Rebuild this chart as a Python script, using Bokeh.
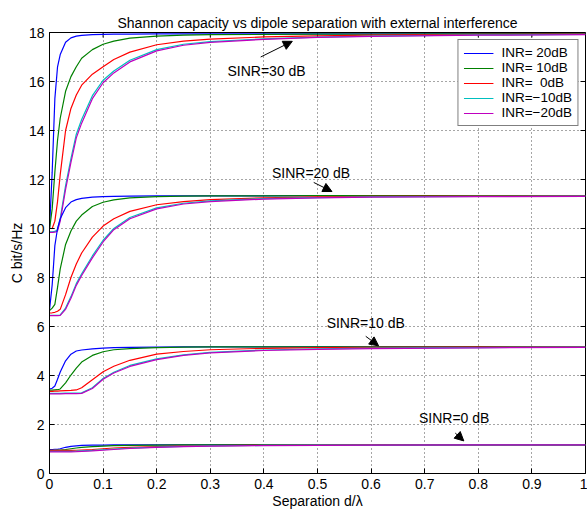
from bokeh.plotting import figure
from bokeh.models import (Legend, LegendItem, Arrow, NormalHead, Label,
                          FixedTicker, Range1d)
from bokeh.embed import file_html
from bokeh.resources import INLINE

# ---------------- data ----------------
sep = [0, 0.005, 0.01, 0.015, 0.02, 0.03, 0.04, 0.05, 0.06, 0.08, 0.1, 0.12, 0.15,
       0.2, 0.25, 0.3, 0.4, 0.5, 0.6, 0.8, 1.0]

inr_labels = ["INR= 20dB", "INR= 10dB", "INR=\u00a0\u00a00dB", "INR=\u221210dB", "INR=\u221220dB"]
inr_colors = ["#0000ff", "#008000", "#ff0000", "#00bfbf", "#bf00bf"]

# SINR = 30 dB
c30_inr20 = [9.97, 12.3, 15.3, 16.6, 17.1, 17.6, 17.78, 17.85, 17.88, 17.91, 17.92, 17.93, 17.93, 17.94, 17.94, 17.94, 17.94, 17.94, 17.94, 17.94, 17.94]
c30_inr10 = [9.97, 10.8, 12.3, 13.6, 14.5, 15.6, 16.2, 16.6, 16.95, 17.3, 17.52, 17.65, 17.77, 17.85, 17.89, 17.91, 17.92, 17.93, 17.93, 17.94, 17.94]
c30_inr0 = [10.0, 10.0, 10.3, 11.1, 12.2, 14.0, 14.9, 15.45, 15.85, 16.3, 16.6, 16.9, 17.2, 17.5, 17.65, 17.73, 17.82, 17.86, 17.89, 17.92, 17.93]
c30_inrm10 = [9.86, 9.86, 9.88, 9.95, 10.4, 11.75, 12.85, 13.85, 14.45, 15.42, 16.05, 16.43, 16.87, 17.3, 17.52, 17.63, 17.74, 17.81, 17.85, 17.9, 17.92]
c30_inrm20 = [9.84, 9.84, 9.85, 9.9, 10.3, 11.6, 12.7, 13.7, 14.3, 15.3, 15.95, 16.35, 16.8, 17.25, 17.48, 17.6, 17.72, 17.8, 17.84, 17.89, 17.91]

# SINR = 20 dB
c20_inr20 = [6.68, 7.7, 9.3, 10.0, 10.4, 10.85, 11.08, 11.18, 11.23, 11.28, 11.3, 11.31, 11.32, 11.33, 11.33, 11.33, 11.33, 11.34, 11.34, 11.34, 11.34]
c20_inr10 = [6.65, 6.75, 6.9, 7.6, 8.35, 9.35, 9.9, 10.3, 10.55, 10.9, 11.07, 11.17, 11.25, 11.3, 11.32, 11.33, 11.33, 11.34, 11.34, 11.34, 11.34]
c20_inr0 = [6.55, 6.56, 6.58, 6.62, 6.7, 7.3, 8.0, 8.55, 9.0, 9.65, 10.1, 10.4, 10.7, 10.97, 11.1, 11.18, 11.25, 11.29, 11.31, 11.32, 11.33]
c20_inrm10 = [6.46, 6.46, 6.46, 6.46, 6.47, 6.75, 7.22, 7.75, 8.15, 8.88, 9.52, 10.0, 10.45, 10.84, 11.03, 11.13, 11.22, 11.26, 11.29, 11.31, 11.32]
c20_inrm20 = [6.44, 6.44, 6.44, 6.44, 6.45, 6.7, 7.15, 7.68, 8.08, 8.8, 9.45, 9.95, 10.4, 10.8, 11.0, 11.1, 11.2, 11.25, 11.28, 11.3, 11.31]

# SINR = 10 dB
c10_inr20 = [3.45, 3.48, 3.57, 3.85, 4.14, 4.6, 4.87, 5.0, 5.04, 5.09, 5.12, 5.14, 5.15, 5.16, 5.17, 5.17, 5.17, 5.17, 5.17, 5.17, 5.17]
c10_inr10 = [3.4, 3.4, 3.41, 3.42, 3.45, 3.7, 4.02, 4.3, 4.55, 4.82, 4.97, 5.05, 5.1, 5.14, 5.16, 5.17, 5.17, 5.17, 5.17, 5.17, 5.17]
c10_inr0 = [3.35, 3.35, 3.36, 3.36, 3.37, 3.38, 3.39, 3.41, 3.5, 3.83, 4.15, 4.38, 4.62, 4.87, 4.98, 5.05, 5.11, 5.14, 5.15, 5.16, 5.17]
c10_inrm10 = [3.27, 3.27, 3.27, 3.27, 3.27, 3.28, 3.28, 3.28, 3.29, 3.5, 3.88, 4.13, 4.41, 4.68, 4.84, 4.94, 5.04, 5.09, 5.12, 5.14, 5.16]
c10_inrm20 = [3.25, 3.25, 3.25, 3.25, 3.25, 3.26, 3.26, 3.26, 3.27, 3.47, 3.85, 4.1, 4.37, 4.65, 4.82, 4.92, 5.02, 5.07, 5.1, 5.13, 5.15]

# SINR = 0 dB
c0_inr20 = [0.98, 0.98, 0.99, 0.99, 1.01, 1.07, 1.11, 1.13, 1.145, 1.155, 1.16, 1.165, 1.17, 1.17, 1.17, 1.17, 1.17, 1.17, 1.17, 1.17, 1.17]
c0_inr10 = [0.95, 0.95, 0.95, 0.955, 0.96, 0.98, 1.01, 1.04, 1.07, 1.1, 1.12, 1.135, 1.15, 1.16, 1.165, 1.17, 1.17, 1.17, 1.17, 1.17, 1.17]
c0_inr0 = [0.94, 0.94, 0.94, 0.94, 0.94, 0.94, 0.945, 0.95, 0.96, 0.98, 1.01, 1.04, 1.07, 1.1, 1.12, 1.135, 1.15, 1.16, 1.165, 1.17, 1.17]
c0_inrm10 = [0.9, 0.9, 0.9, 0.9, 0.9, 0.9, 0.905, 0.91, 0.92, 0.94, 0.97, 1.0, 1.035, 1.08, 1.105, 1.125, 1.145, 1.155, 1.16, 1.165, 1.17]
c0_inrm20 = [0.88, 0.88, 0.88, 0.88, 0.88, 0.88, 0.885, 0.89, 0.9, 0.92, 0.95, 0.98, 1.02, 1.07, 1.1, 1.12, 1.14, 1.15, 1.16, 1.165, 1.17]

groups = [
    [c30_inr20, c30_inr10, c30_inr0, c30_inrm10, c30_inrm20],
    [c20_inr20, c20_inr10, c20_inr0, c20_inrm10, c20_inrm20],
    [c10_inr20, c10_inr10, c10_inr0, c10_inrm10, c10_inrm20],
    [c0_inr20, c0_inr10, c0_inr0, c0_inrm10, c0_inrm20],
]

x_ticks = [0, 0.1, 0.2, 0.3, 0.4, 0.5, 0.6, 0.7, 0.8, 0.9, 1]
x_tick_labels = ["0", "0.1", "0.2", "0.3", "0.4", "0.5", "0.6", "0.7", "0.8", "0.9", "1"]
y_ticks = [0, 2, 4, 6, 8, 10, 12, 14, 16, 18]
y_tick_labels = ["0", "2", "4", "6", "8", "10", "12", "14", "16", "18"]

# annotations (text and arrows)
ann_text = ["SINR=30 dB", "SINR=20 dB", "SINR=10 dB", "SINR=0 dB"]
ann_x = [0.405, 0.488, 0.59, 0.755]
ann_y = [16.43, 12.26, 6.14, 2.26]
arr_x0 = [0.394, 0.493, 0.59, 0.757]
arr_y0 = [17.0, 11.88, 5.6, 1.65]
arr_x1 = [0.453, 0.527, 0.614, 0.773]
arr_y1 = [17.64, 11.51, 5.21, 1.33]

FONT = "Liberation Sans"
FS = "14px"
X0, X1, Y0, Y1 = 0, 1, 0, 18

# ---------------- figure ----------------
p = figure(width=587, height=511, output_backend="svg", toolbar_location=None,
           x_range=Range1d(X0, X1), y_range=Range1d(Y0, Y1),
           min_border_left=49, min_border_right=2, min_border_top=32, min_border_bottom=36,
           title="Shannon capacity vs dipole separation with external interference")
p.background_fill_color = "white"
p.border_fill_color = "white"
p.outline_line_color = "black"
p.outline_line_width = 1
p.outline_line_alpha = 1

p.title.align = "center"
p.title.text_font = FONT
p.title.text_font_size = FS
p.title.text_font_style = "normal"
p.title.text_color = "black"
p.title.standoff = 4

for ax in (p.xaxis[0], p.yaxis[0]):
    ax.major_tick_in = 5
    ax.major_tick_out = 0
    ax.minor_tick_in = 0
    ax.minor_tick_out = 0
    ax.axis_line_color = "black"
    ax.major_tick_line_color = "black"
    ax.major_label_text_font = FONT
    ax.major_label_text_font_size = FS
    ax.major_label_text_color = "black"
    ax.axis_label_text_font = FONT
    ax.axis_label_text_font_size = FS
    ax.axis_label_text_font_style = "normal"
    ax.axis_label_text_color = "black"

p.xaxis[0].ticker = FixedTicker(ticks=x_ticks)
p.xaxis[0].major_label_overrides = dict(zip(x_ticks, x_tick_labels))
p.yaxis[0].ticker = FixedTicker(ticks=y_ticks)
p.yaxis[0].major_label_overrides = dict(zip(y_ticks, y_tick_labels))
p.xaxis[0].axis_label = "Separation d/\u03bb"
p.yaxis[0].axis_label = "C bit/s/Hz"
p.xaxis[0].major_label_standoff = 5
p.xaxis[0].axis_label_standoff = 1
p.yaxis[0].major_label_standoff = 5
p.yaxis[0].axis_label_standoff = 1

p.xgrid.ticker = FixedTicker(ticks=x_ticks)
p.ygrid.ticker = FixedTicker(ticks=y_ticks)
p.grid.grid_line_color = "black"
p.grid.grid_line_alpha = 0.7
p.grid.grid_line_dash = "1 3"
p.grid.grid_line_width = 1

# inward box ticks on the top and right edges (matlab "box on" style)
tick_len_x = 5 * (X1 - X0) / 536.0
tick_len_y = 5 * (Y1 - Y0) / 443.0
p.segment(x0=x_ticks, y0=[Y1] * len(x_ticks), x1=x_ticks, y1=[Y1 - tick_len_y] * len(x_ticks),
          line_color="black", line_width=1)
p.segment(x0=[X1] * len(y_ticks), y0=y_ticks, x1=[X1 - tick_len_x] * len(y_ticks), y1=y_ticks,
          line_color="black", line_width=1)

legend_renderers = [[] for _ in inr_labels]
for grp in groups:
    for k, ys in enumerate(grp):
        r = p.line(sep, ys, line_color=inr_colors[k], line_width=1.2)
        legend_renderers[k].append(r)

items = [LegendItem(label=inr_labels[k], renderers=[legend_renderers[k][0]])
         for k in range(len(inr_labels))]
legend = Legend(items=items, location="top_right", margin=7, padding=5, spacing=0,
                glyph_width=30, glyph_height=14, label_height=14, label_standoff=8,
                label_text_font=FONT, label_text_font_size="13.5px", label_text_color="black",
                label_text_line_height=1.0, label_text_baseline="middle",
                border_line_color="black", border_line_width=1, background_fill_alpha=1,
                background_fill_color="white")
p.add_layout(legend, "center")

for t, x, y in zip(ann_text, ann_x, ann_y):
    p.add_layout(Label(x=x, y=y, text=t, text_font=FONT, text_font_size=FS,
                       text_align="center", text_baseline="middle", text_color="black"))

for xa, ya, xb, yb in zip(arr_x0, arr_y0, arr_x1, arr_y1):
    p.add_layout(Arrow(end=NormalHead(size=9, fill_color="black", line_color="black"),
                       x_start=xa, y_start=ya, x_end=xb, y_end=yb,
                       line_color="black", line_width=1))

open("out.html", "w").write(file_html(p, INLINE))
